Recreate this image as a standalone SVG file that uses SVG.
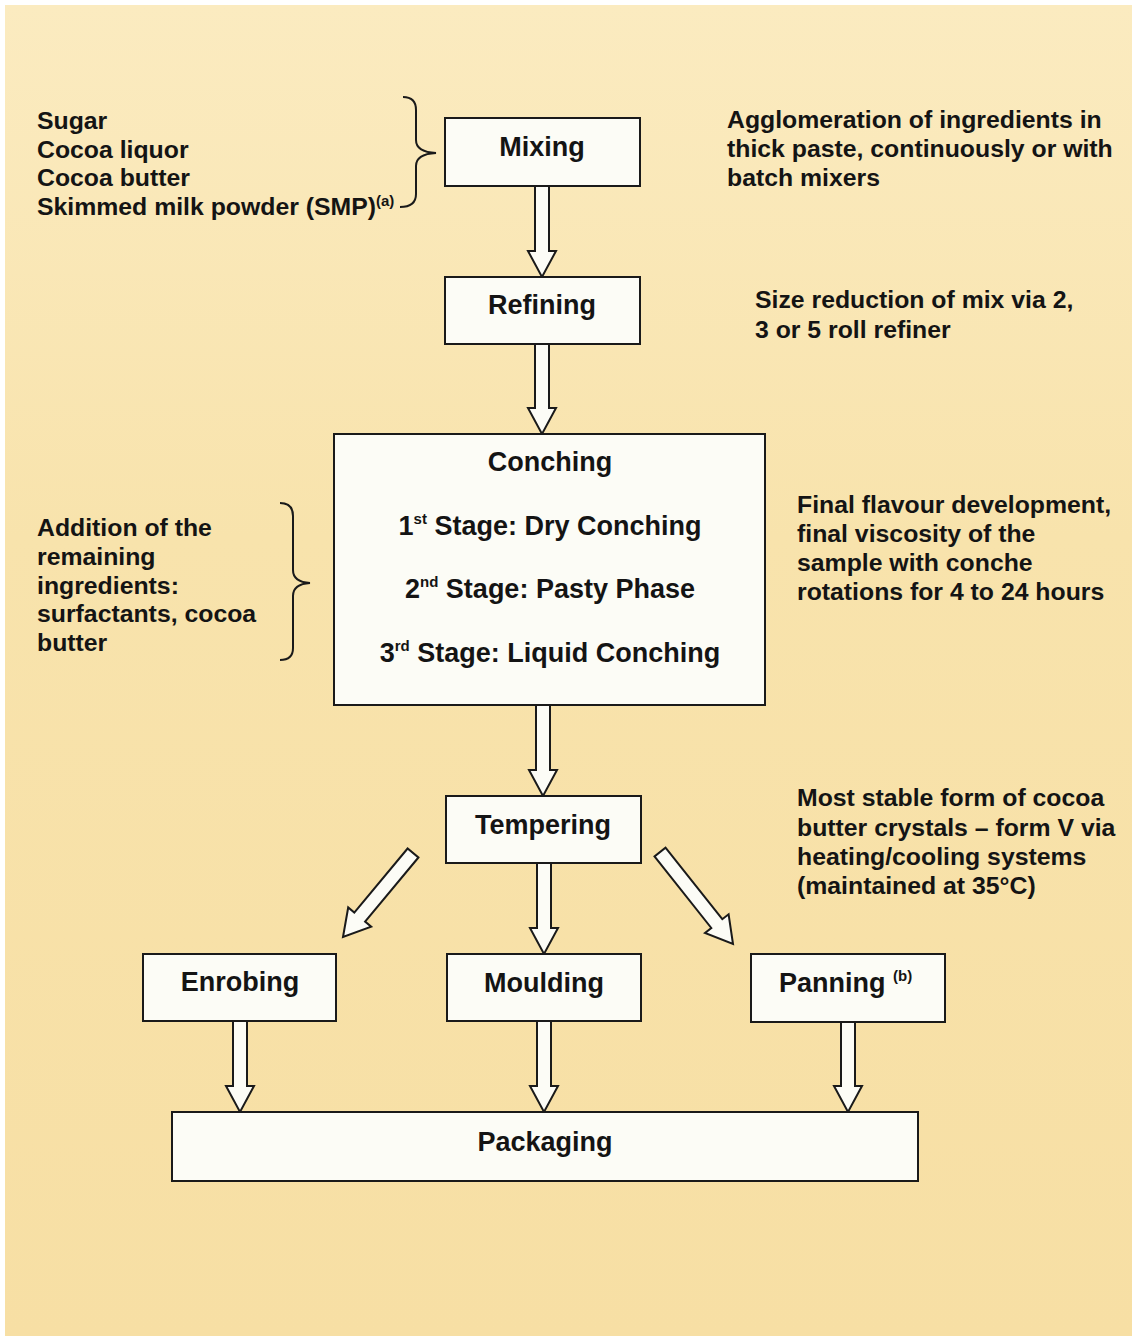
<svg xmlns="http://www.w3.org/2000/svg" width="1132" height="1336" viewBox="0 0 1132 1336">
<defs>
<linearGradient id="paper" x1="0" y1="0" x2="0" y2="1">
<stop offset="0" stop-color="#FBEBC0"/>
<stop offset="0.4" stop-color="#F8E3AC"/>
<stop offset="1" stop-color="#F7DFA4"/>
</linearGradient>
<style>
.box{fill:#FCFCF6;stroke:#1a1a1a;stroke-width:2}
.arrow{fill:#FCFCF6;stroke:#1a1a1a;stroke-width:2;stroke-linejoin:miter}
.brace{fill:none;stroke:#1a1a1a;stroke-width:2}
.lbl{font-family:"Liberation Sans",Arial,sans-serif;font-weight:bold;font-size:27px;fill:#141414}
.side{font-family:"Liberation Sans",Arial,sans-serif;font-weight:bold;font-size:24.8px;fill:#141414}
.sup{font-size:15px}
</style>
</defs>
<rect x="0" y="0" width="1132" height="1336" fill="#ffffff"/>
<rect x="5" y="5" width="1127" height="1331" fill="url(#paper)"/>

<g id="connectors">
<path class="arrow" d="M535,186 L549,186 L549,251 L556,251 L542,277 L528,251 L535,251 Z"/>
<path class="arrow" d="M535,344 L549,344 L549,408 L556,408 L542,434 L528,408 L535,408 Z"/>
<path class="arrow" d="M536,705 L550,705 L550,770 L557,770 L543,796 L529,770 L536,770 Z"/>
<path class="arrow" d="M537,863 L551,863 L551,928 L558,928 L544,954 L530,928 L537,928 Z"/>
<path class="arrow" d="M418.4,857.5 L365.1,921.6 L371.2,926.7 L343,937 L348.2,907.5 L354.3,912.6 L407.6,848.5 Z"/>
<path class="arrow" d="M665.5,847.6 L722.3,919.2 L728.6,914.3 L733,944 L705,932.9 L711.3,928 L654.5,856.4 Z"/>
<path class="arrow" d="M233,1021 L247,1021 L247,1086 L254,1086 L240,1112 L226,1086 L233,1086 Z"/>
<path class="arrow" d="M537,1021 L551,1021 L551,1086 L558,1086 L544,1112 L530,1086 L537,1086 Z"/>
<path class="arrow" d="M841,1022 L855,1022 L855,1086 L862,1086 L848,1112 L834,1086 L841,1086 Z"/>
</g>

<g id="ingredients">
<text class="side" x="37" y="129">Sugar</text>
<text class="side" x="37" y="158">Cocoa liquor</text>
<text class="side" x="37" y="186">Cocoa butter</text>
<text class="side" x="37" y="215">Skimmed milk powder (SMP)<tspan class="sup" dy="-9">(a)</tspan></text>
<path class="brace" d="M403,97 Q416,97 416,110 L416,140 Q416,152 436,153 Q416,154 416,166 L416,194 Q416,207 400,207"/>
</g>

<g id="mixing">
<rect class="box" x="445" y="118" width="195" height="68"/>
<text class="lbl" x="542" y="156" text-anchor="middle">Mixing</text>
</g>
<g id="mixing-note">
<text class="side" x="727" y="128">Agglomeration of ingredients in</text>
<text class="side" x="727" y="157">thick paste, continuously or with</text>
<text class="side" x="727" y="186">batch mixers</text>
</g>

<g id="refining">
<rect class="box" x="445" y="277" width="195" height="67"/>
<text class="lbl" x="542" y="314" text-anchor="middle">Refining</text>
</g>
<g id="refining-note">
<text class="side" x="755" y="308">Size reduction of mix via 2,</text>
<text class="side" x="755" y="338">3 or 5 roll refiner</text>
</g>

<g id="conching">
<rect class="box" x="334" y="434" width="431" height="271"/>
<text class="lbl" x="550" y="471" text-anchor="middle">Conching</text>
<text class="lbl" x="550" y="535" text-anchor="middle">1<tspan class="sup" dy="-11">st</tspan><tspan dy="11"> Stage: Dry Conching</tspan></text>
<text class="lbl" x="550" y="598" text-anchor="middle">2<tspan class="sup" dy="-11">nd</tspan><tspan dy="11"> Stage: Pasty Phase</tspan></text>
<text class="lbl" x="550" y="662" text-anchor="middle">3<tspan class="sup" dy="-11">rd</tspan><tspan dy="11"> Stage: Liquid Conching</tspan></text>
</g>
<g id="conching-input">
<text class="side" x="37" y="536">Addition of the</text>
<text class="side" x="37" y="565">remaining</text>
<text class="side" x="37" y="594">ingredients:</text>
<text class="side" x="37" y="622">surfactants, cocoa</text>
<text class="side" x="37" y="651">butter</text>
<path class="brace" d="M280,503 Q293,503 293,516 L293,570 Q293,582 310,583 Q293,584 293,596 L293,648 Q293,660 280,660"/>
</g>
<g id="conching-note">
<text class="side" x="797" y="513">Final flavour development,</text>
<text class="side" x="797" y="542">final viscosity of the</text>
<text class="side" x="797" y="571">sample with conche</text>
<text class="side" x="797" y="600">rotations for 4 to 24 hours</text>
</g>

<g id="tempering">
<rect class="box" x="446" y="796" width="195" height="67"/>
<text class="lbl" x="543" y="834" text-anchor="middle">Tempering</text>
</g>
<g id="tempering-note">
<text class="side" x="797" y="806">Most stable form of cocoa</text>
<text class="side" x="797" y="836">butter crystals – form V via</text>
<text class="side" x="797" y="865">heating/cooling systems</text>
<text class="side" x="797" y="894">(maintained at 35°C)</text>
</g>

<g id="enrobing">
<rect class="box" x="143" y="954" width="193" height="67"/>
<text class="lbl" x="240" y="991" text-anchor="middle">Enrobing</text>
</g>
<g id="moulding">
<rect class="box" x="447" y="954" width="194" height="67"/>
<text class="lbl" x="544" y="992" text-anchor="middle">Moulding</text>
</g>
<g id="panning">
<rect class="box" x="751" y="954" width="194" height="68"/>
<text class="lbl" x="779" y="992">Panning <tspan class="sup" dy="-11">(b)</tspan></text>
</g>

<g id="packaging">
<rect class="box" x="172" y="1112" width="746" height="69"/>
<text class="lbl" x="545" y="1151" text-anchor="middle">Packaging</text>
</g>
</svg>
